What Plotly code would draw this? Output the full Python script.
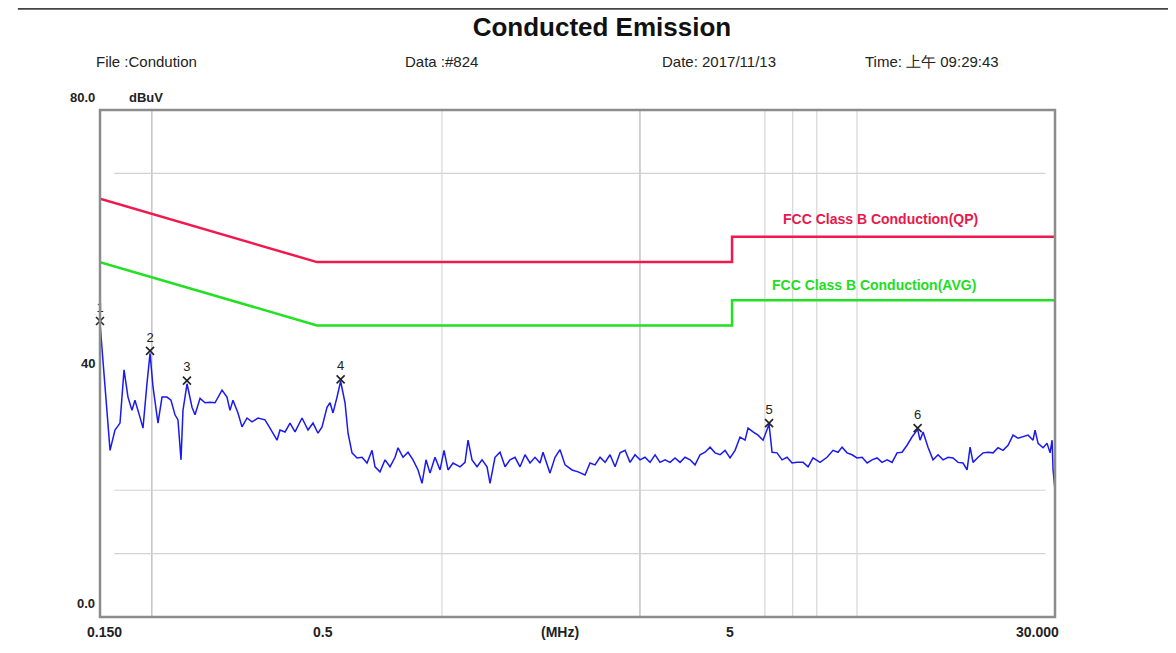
import math
import plotly.graph_objects as go

# ---------------- data ----------------
freq_mhz = [
    0.150, 0.1586, 0.1630, 0.1676, 0.1714, 0.1752, 0.1791, 0.1821, 0.1873, 0.1904,
    0.1947, 0.1980, 0.2013, 0.2069, 0.2116, 0.2175, 0.2224, 0.2274, 0.2312, 0.2351,
    0.2377, 0.2431, 0.2499, 0.2541, 0.2613, 0.2686, 0.2762, 0.2839, 0.2952, 0.3034,
    0.3085, 0.3137, 0.3225, 0.3298, 0.3391, 0.3486, 0.3604, 0.3747, 0.3852, 0.4005,
    0.4072, 0.4187, 0.4305, 0.4426, 0.4601, 0.4757, 0.4890, 0.5028, 0.5141, 0.5285,
    0.5374, 0.5464, 0.5587, 0.5700, 0.5841, 0.5939, 0.6072, 0.6243, 0.6418, 0.6599,
    0.6784, 0.6898, 0.7092, 0.7292, 0.7497, 0.7708, 0.7837, 0.8058, 0.8284, 0.8517,
    0.8757, 0.8953, 0.9154, 0.9360, 0.9623, 0.9894, 1.0116, 1.0343, 1.0634, 1.1055,
    1.1366, 1.1557, 1.1816, 1.2149, 1.2490, 1.2842, 1.3057, 1.3424, 1.3802, 1.4190,
    1.4589, 1.5000, 1.5422, 1.5856, 1.6302, 1.6761, 1.7232, 1.7521, 1.8210, 1.8727,
    1.925, 1.980, 2.058, 2.128, 2.212, 2.274, 2.338, 2.404, 2.472, 2.541,
    2.613, 2.686, 2.762, 2.839, 2.919, 3.001, 3.085, 3.172, 3.262, 3.353,
    3.448, 3.545, 3.644, 3.747, 3.852, 3.961, 4.072, 4.187, 4.305, 4.426,
    4.550, 4.678, 4.810, 4.945, 5.084, 5.227, 5.374, 5.464, 5.618, 5.776,
    5.939, 6.140, 6.243, 6.418, 6.599, 6.784, 6.975, 7.171, 7.414, 7.623,
    7.837, 8.148, 8.470, 8.757, 9.003, 9.205, 9.464, 9.731, 10.00, 10.29,
    10.58, 10.87, 11.18, 11.49, 11.82, 12.15, 12.49, 12.84, 13.20, 13.57,
    14.00, 14.19, 14.43, 14.83, 15.25, 15.68, 16.12, 16.58, 17.04, 17.52,
    18.01, 18.42, 18.73, 19.04, 19.58, 20.13, 20.69, 21.28, 21.87, 22.49,
    23.12, 23.77, 24.44, 25.13, 25.84, 26.56, 26.86, 27.31, 28.08, 28.71,
    29.19, 29.52, 29.68, 30.00,
]
level_dbuv = [
    46.4, 26.3, 29.5, 30.6, 39.0, 34.7, 32.6, 34.2, 31.5, 29.8,
    36.9, 41.6, 36.3, 30.6, 34.7, 34.7, 34.2, 31.9, 31.1, 24.8,
    32.6, 36.8, 33.1, 31.9, 34.5, 33.8, 33.9, 33.8, 35.8, 34.7,
    32.6, 34.2, 32.2, 30.0, 31.4, 30.8, 31.4, 31.1, 29.8, 27.9,
    29.5, 29.2, 30.6, 29.2, 31.4, 29.5, 30.6, 29.0, 30.0, 33.1,
    33.8, 32.2, 34.7, 37.2, 33.8, 29.0, 25.9, 25.1, 25.2, 24.3,
    26.3, 23.7, 22.9, 24.8, 23.7, 25.2, 26.7, 25.2, 26.0, 24.8,
    23.2, 21.1, 24.8, 22.7, 25.2, 23.2, 26.3, 23.2, 24.3, 23.7,
    24.4, 27.9, 24.8, 23.7, 24.8, 23.7, 21.1, 25.2, 26.0, 23.7,
    24.8, 25.2, 23.7, 25.6, 24.3, 25.2, 24.3, 26.0, 22.7, 25.2,
    26.4, 24.0, 23.2, 22.9, 22.4, 24.3, 24.0, 25.2, 24.4, 25.6,
    23.7, 25.9, 26.3, 24.4, 25.6, 24.8, 25.2, 24.4, 25.6, 24.4,
    24.8, 24.4, 25.1, 24.4, 25.2, 24.8, 24.0, 25.6, 26.0, 26.8,
    25.9, 25.6, 26.3, 25.1, 26.3, 28.4, 27.9, 29.8, 29.2, 28.7,
    27.9, 30.4, 26.0, 25.9, 24.8, 25.2, 24.3, 24.4, 24.4, 23.7,
    25.1, 24.4, 25.2, 26.3, 26.0, 26.8, 25.9, 25.6, 25.1, 25.2,
    24.3, 24.8, 25.1, 24.4, 24.8, 24.4, 25.9, 26.0, 27.1, 28.4,
    29.6, 27.9, 29.2, 26.8, 24.8, 25.6, 24.8, 25.2, 25.1, 24.4,
    24.3, 23.2, 26.8, 24.4, 25.2, 25.9, 26.0, 25.9, 26.7, 26.3,
    27.1, 28.7, 28.2, 28.4, 28.7, 27.9, 29.5, 27.4, 26.7, 27.4,
    25.9, 27.9, 23.2, 20.0,
]

limit_freq = [0.15, 0.5, 5.0, 5.0, 30.0]
limit_qp = [66.0, 56.0, 56.0, 60.0, 60.0]
limit_avg = [56.0, 46.0, 46.0, 50.0, 50.0]

peak_labels = ["1", "2", "3", "4", "5", "6"]
peak_freq = [0.150, 0.198, 0.243, 0.570, 6.14, 14.0]
peak_level = [46.7, 42.0, 37.3, 37.5, 30.6, 29.8]

grid_freq_dark = [0.2, 3.0]
grid_freq_light = [1.0, 6.0, 7.0, 8.0, 10.0]
grid_level = [10.0, 20.0, 70.0]

x_tick_vals = [0.15, 0.5, 5.0, 30.0]
x_tick_text = ["0.150", "0.5", "5", "30.000"]
y_tick_vals = [0.0, 40.0, 80.0]
y_tick_text = ["0.0", "40", "80.0"]

header_texts = ["File :Condution", "Data :#824", "Date: 2017/11/13", "Time: 上午 09:29:43"]
header_pos = [0.080, 0.343, 0.561, 0.734]

FONT = "Liberation Sans Narrow, Liberation Sans, Arial, sans-serif"
PLOT_W = 955.0

fig = go.Figure()

fig.add_trace(go.Scatter(x=limit_freq, y=limit_qp, mode="lines",
                         line=dict(color="#f0184c", width=2.5), hoverinfo="skip"))
fig.add_trace(go.Scatter(x=limit_freq, y=limit_avg, mode="lines",
                         line=dict(color="#22e022", width=2.5), hoverinfo="skip"))
fig.add_trace(go.Scatter(x=freq_mhz, y=level_dbuv, mode="lines",
                         line=dict(color="#1a1aee", width=1.5)))
fig.add_trace(go.Scatter(x=peak_freq, y=peak_level, mode="markers+text",
                         cliponaxis=False,
                         marker=dict(symbol="x-thin", size=8,
                                     line=dict(color="#222222", width=1.6)),
                         text=peak_labels, textposition="top center",
                         textfont=dict(family=FONT, size=13, color="#222222")))

shapes = []
for f in grid_freq_dark:
    shapes.append(dict(type="line", xref="x", yref="paper", x0=f, x1=f, y0=0, y1=1,
                       line=dict(color="#b4b4b4", width=1.2), layer="below"))
for f in grid_freq_light:
    shapes.append(dict(type="line", xref="x", yref="paper", x0=f, x1=f, y0=0, y1=1,
                       line=dict(color="#d6d6d6", width=1.2), layer="below"))
for v in grid_level:
    shapes.append(dict(type="line", xref="paper", yref="y", x0=0.015, x1=0.99, y0=v, y1=v,
                       line=dict(color="#d2d2d2", width=1.2), layer="below"))
# page top rule
shapes.append(dict(type="line", xref="paper", yref="paper", x0=-0.086, x1=1.13,
                   y0=1.2, y1=1.2, line=dict(color="#444444", width=2.5)))
# plot frame
shapes.append(dict(type="rect", xref="paper", yref="paper", x0=0, x1=1, y0=0, y1=1,
                   line=dict(color="#8c8c8c", width=2.5)))

annotations = []
for t, px in zip(header_texts, header_pos):
    annotations.append(dict(text=t, xref="paper", yref="paper", x=(px * 1176 - 100) / PLOT_W,
                            y=1.0947, xanchor="left", yanchor="middle", showarrow=False,
                            font=dict(family="Liberation Sans, Arial", size=15, color="#222222")))
annotations.append(dict(text="<b>dBuV</b>", xref="paper", yref="paper", x=0.028, y=1.0256,
                        xanchor="left", yanchor="middle", showarrow=False,
                        font=dict(family=FONT, size=13, color="#222222")))
# y labels
y_shift = [14, 0, 13]
for v, t, s in zip(y_tick_vals, y_tick_text, y_shift):
    annotations.append(dict(text="<b>" + t + "</b>", xref="paper", yref="y", x=-0.003, y=v,
                            yshift=s, xanchor="right", yanchor="middle", showarrow=False,
                            font=dict(family=FONT, size=13, color="#222222")))
# x labels (annotation x on a log axis is given as log10 of the value)
x_anchor = ["center", "center", "center", "right"]
x_shift = [4, 6, -2, 6]
for v, t, a, s in zip(x_tick_vals, x_tick_text, x_anchor, x_shift):
    annotations.append(dict(text="<b>" + t + "</b>", xref="x", yref="paper", x=math.log10(v),
                            y=-0.03, xshift=s, xanchor=a, yanchor="middle", showarrow=False,
                            font=dict(family=FONT, size=14, color="#222222")))
annotations.append(dict(text="<b>(MHz)</b>", xref="x", yref="paper", x=math.log10(1.93),
                        y=-0.03, xanchor="center", yanchor="middle", showarrow=False,
                        font=dict(family=FONT, size=14, color="#222222")))
annotations.append(dict(text="<b>FCC Class B Conduction(QP)</b>", xref="x", yref="y",
                        x=math.log10(11.37), y=62.8, xanchor="center", yanchor="middle",
                        showarrow=False, font=dict(family=FONT, size=14, color="#e8184c")))
annotations.append(dict(text="<b>FCC Class B Conduction(AVG)</b>", xref="x", yref="y",
                        x=math.log10(11.0), y=52.4, xanchor="center", yanchor="middle",
                        showarrow=False, font=dict(family=FONT, size=14, color="#22dd22")))

fig.update_layout(
    width=1160, height=637,
    margin=dict(l=92, r=113, t=102, b=28),
    paper_bgcolor="white", plot_bgcolor="white",
    showlegend=False,
    title=dict(text="<b>Conducted Emission</b>", x=0.512, xanchor="center",
               y=0.97, yanchor="middle",
               font=dict(family="Liberation Sans, Arial", size=26, color="#111111")),
    xaxis=dict(type="log", range=[math.log10(0.15), math.log10(30.0)], showgrid=False,
               zeroline=False, showticklabels=False, ticks=""),
    yaxis=dict(range=[0, 80], showgrid=False, zeroline=False, showticklabels=False,
               ticks=""),
    shapes=shapes, annotations=annotations,
)

fig.write_html("out.html")
